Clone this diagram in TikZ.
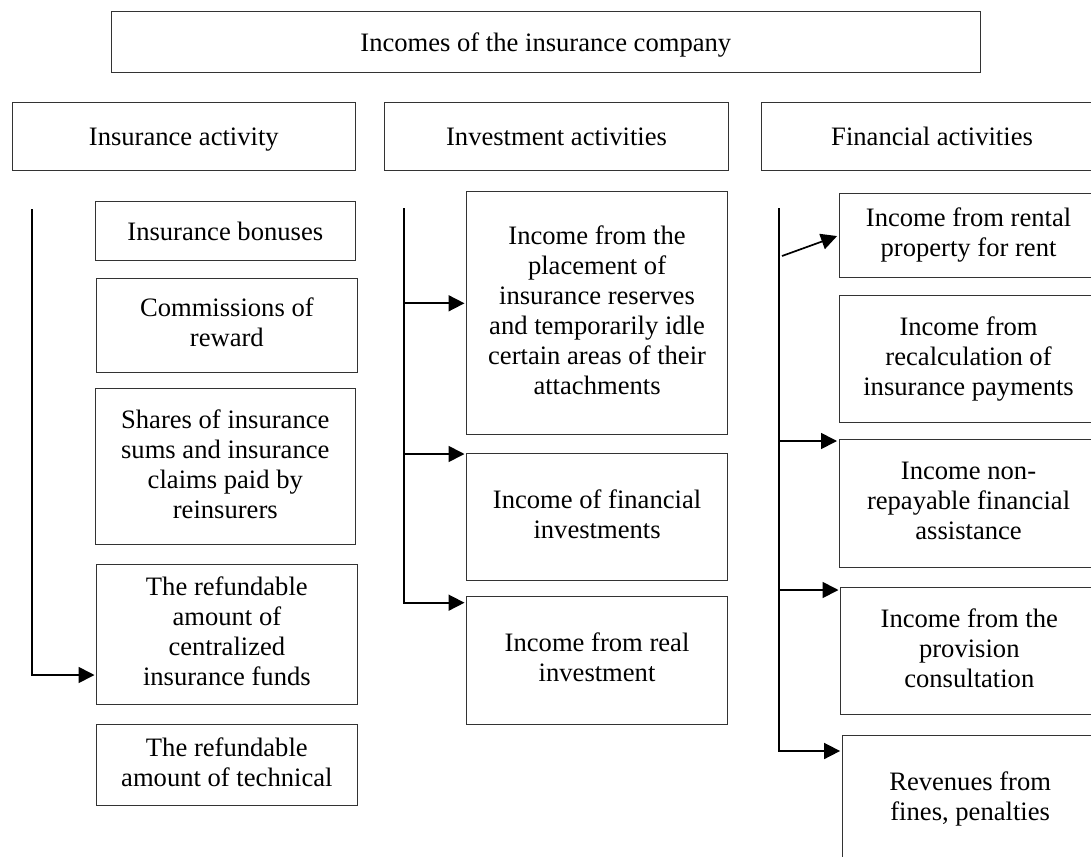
\documentclass[tikz,border=0pt]{standalone}
\usepackage{fontspec}
\setmainfont{Liberation Serif}
\usetikzlibrary{arrows.meta}
% line strut that sets the height and depth of every text line in a box
\newcommand\linestrut{\rule[-6pt]{0pt}{30pt}}
\begin{document}
\begin{tikzpicture}[x=1pt,y=-1pt,
  box/.style={draw=black!80, line width=1.1pt, anchor=north west, inner sep=0pt,
    align=center, font={\fontsize{26.6}{30}\selectfont},
    execute at begin node=\linestrut, execute at end node=\linestrut},
  conn/.style={line width=1.7pt, black},
  arr/.style={conn, -{Triangle[length=16pt,width=16pt]}, shorten >=1.5pt}]
\useasboundingbox (0,0) rectangle (1091,856);
\clip (0,0) rectangle (1091,856);

% top level
\node[box, minimum width=869.5pt, minimum height=61pt] (top) at (110.5,11) {Incomes of the insurance company};

% activity groups
\node[box, minimum width=343.5pt, minimum height=68pt] (ins) at (11.5,102.3) {Insurance activity};
\node[box, minimum width=344pt, minimum height=68pt] (inv) at (384,102.3) {Investment activities};
\node[box, minimum width=342pt, minimum height=68pt] (fin) at (760.5,102.3) {Financial activities};

% insurance activity items
\node[box, minimum width=260.5pt, minimum height=59pt] (bonus) at (94.5,201.3) {Insurance bonuses};
\node[box, minimum width=260.6pt, minimum height=94.6pt] (comm) at (96,277.7) {Commissions of\\reward};
\node[box, minimum width=260.5pt, minimum height=156pt] (shares) at (94.5,388.3) {Shares of insurance\\sums and insurance\\claims paid by\\reinsurers};
\node[box, minimum width=260.6pt, minimum height=140.6pt] (central) at (96,563.7) {The refundable\\amount of\\centralized\\insurance funds};
\node[box, minimum width=260.6pt, minimum height=81pt] (tech) at (96,723.7) {The refundable\\amount of technical};

% investment activity items
\node[box, minimum width=261pt, minimum height=242.7pt] (place) at (466,191.3) {Income from the\\placement of\\insurance reserves\\and temporarily idle\\certain areas of their\\attachments};
\node[box, minimum width=261pt, minimum height=127.3pt] (finv) at (466,452.7) {Income of financial\\investments};
\node[box, minimum width=261pt, minimum height=128pt] (real) at (466,595.7) {Income from real\\investment};

% financial activity items
\node[box, minimum width=259pt, minimum height=84.6pt] (rent) at (838.5,192.7) {Income from rental\\property for rent};
\node[box, minimum width=259pt, minimum height=126.7pt] (recalc) at (838.5,295) {Income from\\recalculation of\\insurance payments};
\node[box, minimum width=259pt, minimum height=127.7pt] (nonrep) at (838.5,439.3) {Income non-\\repayable financial\\assistance};
\node[box, minimum width=257.5pt, minimum height=127.6pt] (prov) at (840,586.7) {Income from the\\provision\\consultation};
\node[box, minimum width=256pt, minimum height=128pt] (fines) at (841.6,735) {Revenues from\\fines, penalties};

% trunk lines and their branches
\coordinate (lt) at (32,209.3);
\coordinate (lb) at (32,675);
\draw[arr] (lt) -- (lb) -- (lb -| central.west);

\coordinate (it) at (404,208.3);
\coordinate (i1) at (404,303.3);
\coordinate (i2) at (404,454);
\coordinate (i3) at (404,602.7);
\draw[arr] (it) -- (i3) -- (i3 -| real.west);
\draw[arr] (i1) -- (i1 -| place.west);
\draw[arr] (i2) -- (i2 -| finv.west);

\coordinate (ft) at (779,208.3);
\coordinate (fd) at (782,256);
\coordinate (f1) at (779,441);
\coordinate (f2) at (779,590);
\coordinate (f3) at (779,751);
\draw[arr] (ft) -- (f3) -- (f3 -| fines.west);
\draw[arr] (fd) -- (rent.west);
\draw[arr] (f1) -- (f1 -| nonrep.west);
\draw[arr] (f2) -- (f2 -| prov.west);
\end{tikzpicture}
\end{document}
